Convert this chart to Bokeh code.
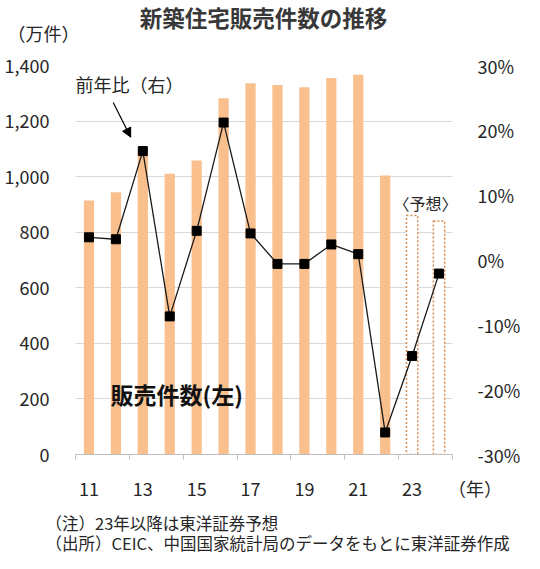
from bokeh.embed import file_html
from bokeh.resources import INLINE
from bokeh.layouts import column
from bokeh.plotting import figure
from bokeh.models import (Range1d, LinearAxis, FixedTicker, NumeralTickFormatter,
                          PrintfTickFormatter, Label, Arrow, NormalHead)

# data
years = [2011, 2012, 2013, 2014, 2015, 2016, 2017, 2018, 2019, 2020, 2021, 2022]
sales = [914, 944, 1100, 1010, 1058, 1282, 1336, 1330, 1322, 1355, 1367, 1004]  # 万件
fc_years = [2023, 2024]
fc_sales = [860, 840]  # 予想
all_years = years + fc_years
yoy = [3.5, 3.2, 16.8, -8.7, 4.5, 21.2, 4.1, -0.6, -0.6, 2.4, 0.9, -26.6, -14.8, -2.1]  # %
year_labels = ["11", "13", "15", "17", "19", "21", "23"]

FONT = "Noto Sans CJK JP"
BAR = "#F9C08E"
GRID = "#D9D9D9"
TXT = "#262626"
W = 524


def text_strip(h):
    # plain strip for texts above / below the chart, coordinates in pixels
    f = figure(width=W, height=h, output_backend="svg", toolbar_location=None,
               x_range=Range1d(0, W), y_range=Range1d(0, h),
               x_axis_type=None, y_axis_type=None, min_border=0, frame_align=False)
    f.outline_line_color = None
    f.grid.visible = False
    return f


def lab(f, x, y, t, size, bold=False, align="left", color=TXT):
    f.add_layout(Label(x=x, y=y, text=t, text_font=FONT, text_font_size=size,
                       text_font_style="bold" if bold else "normal",
                       text_align=align, text_baseline="middle", text_color=color))


# header
top = text_strip(50)
lab(top, 263, 34, "新築住宅販売件数の推移", "22.5px", bold=True, align="center", color="#383838")
lab(top, 7, 18, "（万件）", "18px")

# main chart
p = figure(width=W, height=453, output_backend="svg", toolbar_location=None,
           x_range=Range1d(2010.5, 2024.5), y_range=Range1d(0, 1400),
           min_border_left=75, min_border_right=72, min_border_top=15,
           min_border_bottom=48, frame_align=False)
p.outline_line_color = None
p.xgrid.grid_line_color = None
p.ygrid.grid_line_color = GRID
p.ygrid.ticker = FixedTicker(ticks=list(range(200, 1401, 200)))

# left axis
p.yaxis.ticker = FixedTicker(ticks=list(range(0, 1401, 200)))
p.yaxis.formatter = NumeralTickFormatter(format="0,0")
p.yaxis.axis_line_color = None
p.yaxis.major_tick_line_color = None
p.yaxis.minor_tick_line_color = None
p.yaxis.major_label_standoff = 20
p.yaxis.major_label_text_font = FONT
p.yaxis.major_label_text_font_size = "18px"
p.yaxis.major_label_text_color = TXT

# bottom axis: labels on odd years, small ticks between the year pairs
bounds = [y - 0.5 for y in all_years[::2]] + [all_years[-1] + 0.5]
lab_years = all_years[::2]
p.xaxis.ticker = FixedTicker(ticks=lab_years + [all_years[-1] + 0.5], minor_ticks=bounds)
over = {y: t for y, t in zip(lab_years, year_labels)}
over[all_years[-1] + 0.5] = "\u3000\u3000\u3000（年）"
p.xaxis.major_label_overrides = over
p.xaxis.axis_line_color = "#BFBFBF"
p.xaxis.major_tick_line_color = None
p.xaxis.major_tick_in = 0
p.xaxis.major_tick_out = 0
p.xaxis.minor_tick_line_color = "#BFBFBF"
p.xaxis.minor_tick_in = 0
p.xaxis.minor_tick_out = 5
p.xaxis.major_label_standoff = 15
p.xaxis.major_label_text_font = FONT
p.xaxis.major_label_text_font_size = "18px"
p.xaxis.major_label_text_color = TXT

# right axis
p.extra_y_ranges = {"pct": Range1d(-30, 30)}
ax = LinearAxis(y_range_name="pct", ticker=FixedTicker(ticks=list(range(-30, 31, 10))),
                formatter=PrintfTickFormatter(format="%d%%"))
ax.axis_line_color = None
ax.major_tick_line_color = None
ax.minor_tick_line_color = None
ax.major_label_standoff = 19
ax.major_label_text_font = FONT
ax.major_label_text_font_size = "18px"
ax.major_label_text_color = TXT
p.add_layout(ax, "right")

# bars
p.vbar(x=years, top=sales, width=0.38, fill_color=BAR, line_color=None)
p.vbar(x=fc_years, top=fc_sales, width=0.42, fill_color="white",
       line_color="#D98A4E", line_dash="2 2", line_width=1.5)

# yoy line
p.line(x=all_years, y=yoy, y_range_name="pct", line_color="#1a1a1a", line_width=1.3)
p.scatter(x=all_years, y=yoy, y_range_name="pct", marker="square", size=9,
          fill_color="black", line_color="black")

lab(p, 2010.5, 1335, "前年比（右）", "18px")
lab(p, 2011.8, 219, "販売件数(左)", "23px", bold=True, color="#111111")
lab(p, 2023.5, 905, "〈予想〉", "16px", align="center")

p.add_layout(Arrow(end=NormalHead(size=9, fill_color="black", line_color="black"),
                   x_start=2011.9, y_start=1267, x_end=2012.55, y_end=1142,
                   line_color="black", line_width=1.2))

# footnotes
foot = text_strip(50)
lab(foot, 45, 31, "（注）23年以降は東洋証券予想", "16.5px")
lab(foot, 45, 11, "（出所）CEIC、中国国家統計局のデータをもとに東洋証券作成", "16.5px")

layout = column(top, p, foot, spacing=0)
open("out.html", "w").write(file_html(layout, INLINE))
